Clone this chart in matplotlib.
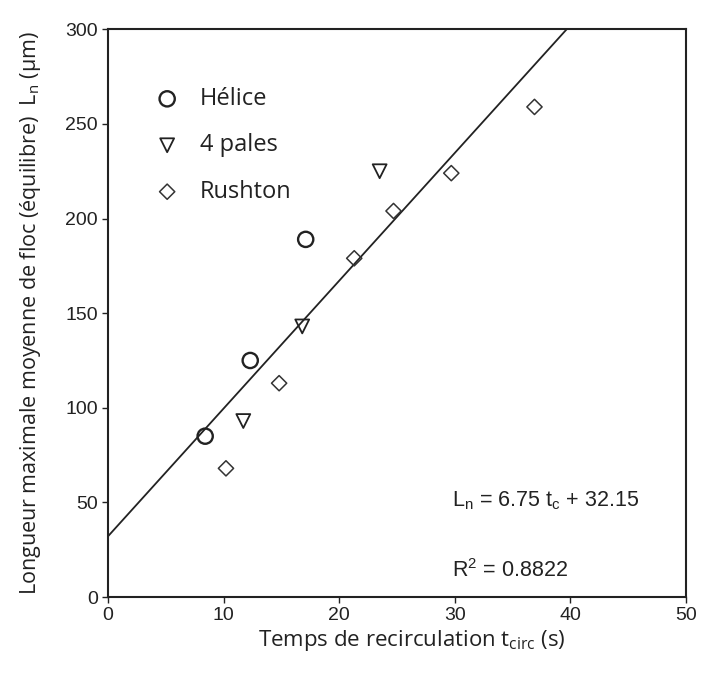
import numpy as np
import matplotlib.pyplot as plt

# data
helice_t = [8.4, 12.3, 17.1]
helice_L = [85, 125, 189]
pales_t = [11.7, 16.8, 23.5]
pales_L = [93, 143, 225]
rushton_t = [10.2, 14.8, 21.3, 24.7, 29.7, 36.9]
rushton_L = [68, 113, 179, 204, 224, 259]

slope = 6.75
intercept = 32.15
r2 = 0.8822

fig = plt.figure(figsize=(7.02, 6.82), dpi=100)
ax = fig.add_axes([0.154, 0.1246, 0.823, 0.8324])

tl = np.array([0, 50])
ax.plot(tl, slope * tl + intercept, color='#222222', lw=1.3)

ax.scatter(helice_t, helice_L, marker='o', s=120, facecolors='none',
           edgecolors='#222222', linewidths=1.7, label='Hélice', zorder=3)
ax.scatter(pales_t, pales_L, marker='v', s=100, facecolors='none',
           edgecolors='#222222', linewidths=1.3, label='4 pales', zorder=3)
ax.scatter(rushton_t, rushton_L, marker='D', s=60, facecolors='none',
           edgecolors='#333333', linewidths=1.1, label='Rushton', zorder=3)

ax.set_xlim(0, 50)
ax.set_ylim(0, 300)
ax.set_xticks(range(0, 51, 10))
ax.set_yticks(range(0, 301, 50))
ax.tick_params(direction='out', length=4, width=1, labelsize=14, colors='#222222')
for lab in ax.get_xticklabels() + ax.get_yticklabels():
    lab.set_family('Liberation Sans')
for sp in ax.spines.values():
    sp.set_linewidth(1.5)
    sp.set_color('#222222')

leg = ax.legend(loc='upper left', bbox_to_anchor=(0.045, 0.915), frameon=False,
                prop={'family': 'Open Sans', 'size': 17}, handletextpad=0.4,
                labelspacing=0.95, borderaxespad=0)
for t in leg.get_texts():
    t.set_color('#222222')

ax.set_xlabel('Temps de recirculation t$_{\\mathregular{circ}}$ (s)',
              family='Open Sans', fontsize=16, color='#222222')
ax.xaxis.set_label_coords(0.525, -0.055)
ax.set_ylabel('Longueur maximale moyenne de floc (équilibre)  L$_{\\mathregular{n}}$ (µm)',
              family='Open Sans', fontsize=15.5, labelpad=16, color='#222222')

ax.text(0.595, 0.16, 'L$_{\\mathregular{n}}$ = %.2f t$_{\\mathregular{c}}$ + %.2f' % (slope, intercept),
        transform=ax.transAxes, family='Liberation Sans', fontsize=15.5, color='#222222')
ax.text(0.595, 0.035, 'R$^{\\mathregular{2}}$ = %.4f' % r2,
        transform=ax.transAxes, family='Liberation Sans', fontsize=15.5, color='#222222')

fig.savefig('out.png', dpi=100)
